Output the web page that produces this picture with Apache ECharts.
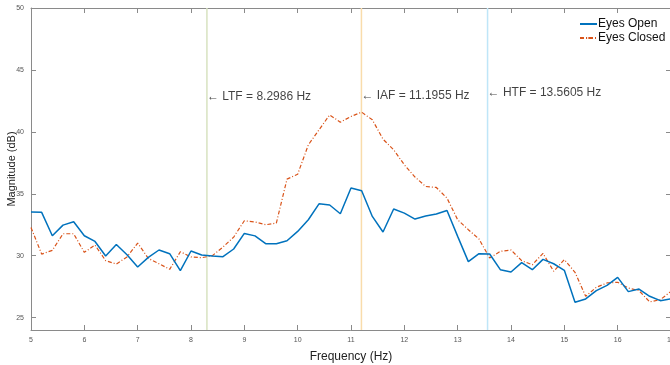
<!DOCTYPE html>
<html><head><meta charset="utf-8">
<script src="https://cdn.jsdelivr.net/npm/echarts@6/dist/echarts.min.js"></script>
<style>html,body{margin:0;padding:0;background:#fff}#c{width:670px;height:365px}</style>
</head><body><div id="c"></div>
<script>
const freqs = [5.0,5.2,5.4,5.6,5.8,6.0,6.2,6.4,6.6,6.8,7.0,7.2,7.4,7.6,7.8,8.0,8.2,8.4,8.6,8.8,9.0,9.2,9.4,9.6,9.8,10.0,10.2,10.4,10.6,10.8,11.0,11.2,11.4,11.6,11.8,12.0,12.2,12.4,12.6,12.8,13.0,13.2,13.4,13.6,13.8,14.0,14.2,14.4,14.6,14.8,15.0,15.2,15.4,15.6,15.8,16.0,16.2,16.4,16.6,16.8,17.0];
const eyesOpen = [33.52,33.5,31.61,32.47,32.74,31.61,31.15,29.98,30.9,30.08,29.09,29.86,30.46,30.16,28.79,30.38,30.06,29.98,29.92,30.54,31.8,31.6,30.97,30.97,31.21,31.96,32.9,34.19,34.09,33.39,35.46,35.24,33.17,31.91,33.77,33.44,32.96,33.2,33.36,33.65,31.56,29.52,30.16,30.14,28.87,28.68,29.44,28.87,29.7,29.35,28.82,26.24,26.51,27.18,27.6,28.25,27.1,27.31,26.72,26.37,26.51];
const eyesClosed = [32.28,30.13,30.43,31.77,31.77,30.27,30.86,29.6,29.33,29.9,31.02,29.78,29.35,28.9,30.32,29.9,29.84,30.0,30.7,31.5,32.82,32.72,32.5,32.63,36.18,36.58,38.95,40.16,41.37,40.78,41.24,41.59,40.97,39.41,38.55,37.34,36.35,35.59,35.51,34.65,32.9,32.1,31.35,29.81,30.35,30.46,29.6,29.27,30.19,28.74,29.68,28.66,26.72,27.45,27.8,27.85,27.39,27.18,26.27,26.45,27.12];
const markerNames = ['LTF','IAF','HTF'];
const markerFreqs = [8.2986, 11.1955, 13.5605];
const markerLabelY = [42.85, 42.9, 43.2];
const markerColors = ['#d8e3c0','#f9dcab','#bfe6f8'];
const xTicks = [5,6,7,8,9,10,11,12,13,14,15,16,17];
const yTicks = [25,30,35,40,45,50];

const axisCol = '#8a8a8a';
const font = 'Liberation Sans, Arial, sans-serif';
const chart = echarts.init(document.getElementById('c'));
const vSeries = markerFreqs.map((f,i)=>({
  type:'line', data:[[f,24],[f,50]], symbol:'none', silent:true,
  lineStyle:{color:markerColors[i], width:1.5}, z:1
}));
const labelSeries = {
  type:'scatter', symbolSize:0, silent:true, z:5,
  data: markerFreqs.map((f,i)=>({value:[f, markerLabelY[i]], name: '\u2190 ' + markerNames[i] + ' = ' + f.toFixed(4) + ' Hz'})),
  label:{show:true, position:'right', distance:0, formatter:p=>p.name, color:'#111', fontSize:12, fontFamily:font}
};
chart.setOption({
  animation:false,
  grid:{left:31, top:8, width:640, height:322, outerBoundsMode:'none', containLabel:false},
  legend:{
    data:['Eyes Open','Eyes Closed'], orient:'vertical', left:574, top:13,
    itemWidth:17, itemHeight:2, itemGap:2,
    textStyle:{fontSize:12, color:'#111', fontFamily:font, padding:[0,0,0,-4]}
  },
  xAxis:[{
    type:'value', min:5, max:17, interval:1, position:'bottom',
    axisLine:{onZero:false, lineStyle:{color:axisCol}},
    axisTick:{inside:true, length:5, lineStyle:{color:axisCol}},
    axisLabel:{fontSize:7, color:'#555', margin:7},
    splitLine:{show:false},
    name:'Frequency (Hz)', nameLocation:'middle', nameGap:21, nameMoveOverlap:false,
    nameTextStyle:{fontSize:12, color:'#222', fontFamily:font}
  },{
    type:'value', min:5, max:17, interval:1, position:'top',
    axisLine:{onZero:false, lineStyle:{color:axisCol}},
    axisTick:{inside:true, length:5, lineStyle:{color:axisCol}},
    axisLabel:{show:false}, splitLine:{show:false}
  }],
  yAxis:[{
    type:'value', min:24, max:50, position:'left',
    axisLine:{show:true, onZero:false, lineStyle:{color:axisCol}},
    axisTick:{show:true, inside:true, length:5, customValues:yTicks, lineStyle:{color:axisCol}},
    axisLabel:{fontSize:7, color:'#555', margin:7, customValues:yTicks},
    splitLine:{show:false},
    name:'Magnitude (dB)', nameLocation:'middle', nameGap:14, nameRotate:90, nameMoveOverlap:false,
    nameTextStyle:{fontSize:11, color:'#222', fontFamily:font}
  },{
    type:'value', min:24, max:50, position:'right',
    axisLine:{show:true, onZero:false, lineStyle:{color:axisCol}},
    axisTick:{show:true, inside:true, length:5, customValues:yTicks, lineStyle:{color:axisCol}},
    axisLabel:{show:false}, splitLine:{show:false}
  }],
  series:[
    ...vSeries,
    {name:'Eyes Open', type:'line', data:freqs.map((f,i)=>[f,eyesOpen[i]]), symbol:'none',
     lineStyle:{color:'#0072BD', width:1.5}, itemStyle:{color:'#0072BD'}, z:3},
    {name:'Eyes Closed', type:'line', data:freqs.map((f,i)=>[f,eyesClosed[i]]), symbol:'none',
     lineStyle:{color:'#D95319', width:1.2, type:[4,2,1,2]}, itemStyle:{color:'#D95319'}, z:2},
    labelSeries
  ]
});
</script></body></html>
